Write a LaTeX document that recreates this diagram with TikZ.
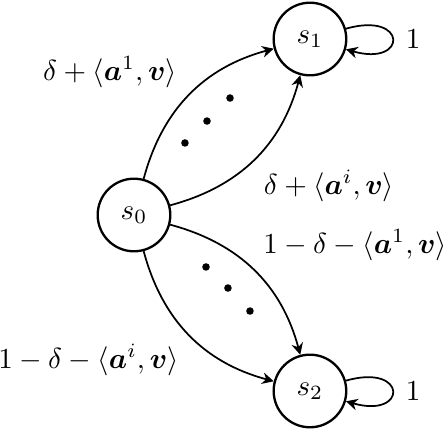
\documentclass[tikz,border=0pt]{standalone}
\usepackage{amsmath,amssymb}
\usetikzlibrary{arrows.meta}

\tikzset{
	state/.style={circle, draw, thick, minimum size=0.88cm, inner sep=0pt},
	trans/.style={->, >={Stealth[length=4pt, width=4pt, inset=1.3pt]}, semithick},
	dotmark/.style={fill, circle, inner sep=0pt, minimum size=2.6pt}
}

\begin{document}
\begin{tikzpicture}
	\useasboundingbox (-1.624,-2.582) rectangle (3.782,2.606);
	\node[state] (s0) at (0,0) {$s_0$};
	\node[state] (s1) at (2.133,2.133) {$s_1$};
	\node[state] (s2) at (2.133,-2.133) {$s_2$};
	\draw[trans] (s0) to[bend left=30] (s1);
	\draw[trans] (s0) to[bend right=30] (s1);
	\draw[trans] (s0) to[bend left=30] (s2);
	\draw[trans] (s0) to[bend right=30] (s2);
	\draw[trans] (s1) to[out=16, in=-16, loop, looseness=8, min distance=6mm] node[right, xshift=1pt] (l1) {$1$} (s1);
	\draw[trans] (s2) to[out=16, in=-16, loop, looseness=8, min distance=6mm] node[right, xshift=1pt] (l2) {$1$} (s2);
	% the dots between the arrows
	\node[dotmark] (u1) at (0.618,0.873) {};
	\node[dotmark] (u2) at (0.885,1.139) {};
	\node[dotmark] (u3) at (1.164,1.418) {};
	\node[dotmark] (d1) at (0.873,-0.630) {};
	\node[dotmark] (d2) at (1.139,-0.885) {};
	\node[dotmark] (d3) at (1.406,-1.164) {};
	\node (a1) at (-0.291,1.733) {$\delta + \langle \boldsymbol{a}^1, \boldsymbol{v} \rangle$};
	\node (ai) at (2.364,0.352) {$\delta + \langle \boldsymbol{a}^i, \boldsymbol{v} \rangle$};
	\node (b1) at (2.68,-0.364) {$1 - \delta - \langle \boldsymbol{a}^1, \boldsymbol{v} \rangle$};
	\node (bi) at (-0.552,-1.758) {$1 - \delta - \langle \boldsymbol{a}^i, \boldsymbol{v} \rangle$};
\end{tikzpicture}
\end{document}
